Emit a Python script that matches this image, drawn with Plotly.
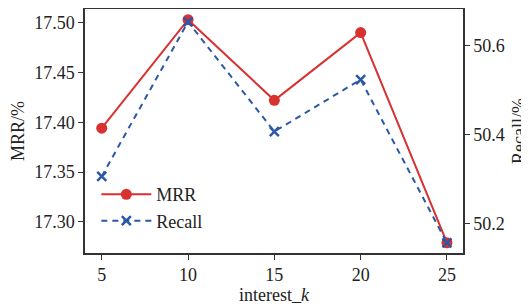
import plotly.graph_objects as go

interest_k = [5, 10, 15, 20, 25]
mrr = [17.394, 17.503, 17.422, 17.490, 17.279]
recall = [50.306, 50.654, 50.407, 50.524, 50.156]

red = "#d93030"
blue = "#2b58a6"
font = "Liberation Serif"

fig = go.Figure()
fig.add_trace(go.Scatter(x=interest_k, y=mrr, name="MRR", mode="lines+markers",
                         line=dict(color=red, width=2),
                         marker=dict(symbol="circle", size=11, color=red)))
fig.add_trace(go.Scatter(x=interest_k, y=recall, name="Recall", mode="lines+markers",
                         yaxis="y2",
                         line=dict(color=blue, width=2, dash="6px,5px"),
                         marker=dict(symbol="x-thin-open", size=9,
                                     line=dict(color=blue, width=2.5))))

axis_common = dict(showline=True, linecolor="#333", linewidth=1.5, ticks="outside",
                   ticklen=5, tickcolor="#333", showgrid=False, zeroline=False,
                   automargin=False,
                   tickfont=dict(family=font, size=18, color="#222"))

fig.update_layout(
    width=521, height=298,
    margin=dict(l=77, r=66, t=1, b=53),
    paper_bgcolor="white", plot_bgcolor="white",
    font=dict(family=font, size=18, color="#222"),
    showlegend=True,
    legend=dict(x=0.03, y=0.315, xanchor="left", yanchor="top",
                bgcolor="rgba(0,0,0,0)", font=dict(family=font, size=18),
                itemwidth=50, tracegroupgap=0),
    xaxis=dict(range=[4.03, 25.93], tickvals=interest_k, mirror=True,
               title=dict(text="interest_<i>k</i>", font=dict(family=font, size=18), standoff=2),
               **axis_common),
    yaxis=dict(range=[17.2687, 17.5137], tickvals=[17.30, 17.35, 17.40, 17.45, 17.50],
               tickformat=".2f",
               title=dict(text="MRR/%", font=dict(family=font, size=18), standoff=7),
               **axis_common),
    yaxis2=dict(range=[50.1334, 50.683], tickvals=[50.2, 50.4, 50.6], tickformat=".1f",
                overlaying="y", side="right",
                title=dict(text="Recall/%", font=dict(family=font, size=18), standoff=13),
                **axis_common),
)

fig.write_html("out.html")
